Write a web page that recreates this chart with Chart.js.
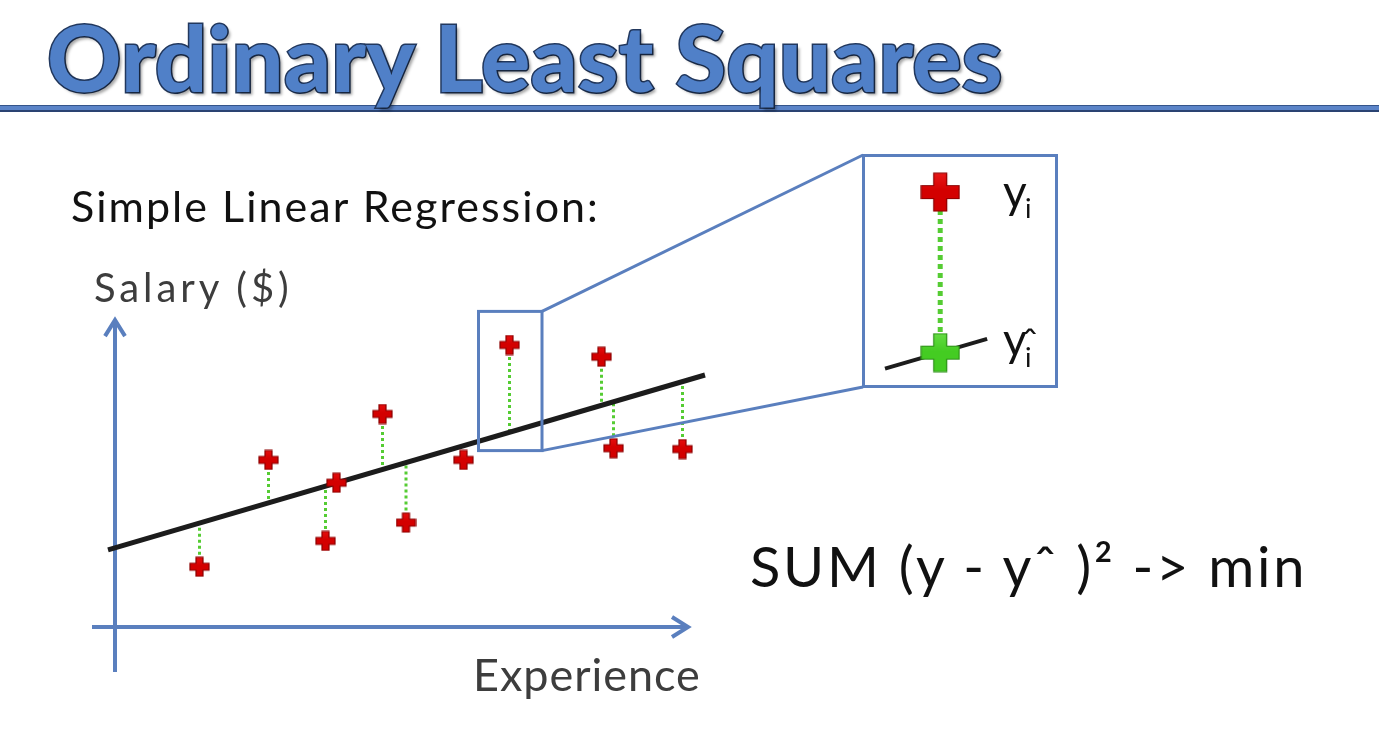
<!DOCTYPE html>
<html><head><meta charset="utf-8">
<script src="https://cdn.jsdelivr.net/npm/chart.js@4.4.1/dist/chart.umd.min.js"></script>
<style>
html,body{margin:0;padding:0;background:#fff;}
#page{position:relative;width:1379px;height:730px;overflow:hidden;background:#fff;}
canvas{position:absolute;}
.t{position:absolute;white-space:pre;margin:0;padding:0;font-family:Lato,"Open Sans",sans-serif;}
#rule{position:absolute;left:0;top:105px;width:1379px;height:4px;background:#5b84c8;border-top:1px solid #34548a;border-bottom:2px solid #2a4372;}
#title{color:#5080c8;-webkit-text-stroke:3px #22385e;paint-order:stroke fill;text-shadow:3px 3px 3px rgba(0,0,0,0.35);}
</style></head>
<body><div id="page">
<canvas id="main" width="1379" height="730" style="left:0;top:0;width:1379px;height:730px"></canvas>
<canvas id="inset" width="196" height="234" style="left:862px;top:154px;width:196px;height:234px"></canvas>
<div id="rule"></div>
<div class="t" id="title">Ordinary Least Squares</div>
<div class="t" id="sub">Simple Linear Regression:</div>
<div class="t" id="ylab">Salary ($)</div>
<div class="t" id="xlab">Experience</div>
<div class="t" id="formula">SUM (y - yˆ )² -> min</div>
<div class="t" id="y1">y</div>
<div class="t" id="i1">i</div>
<div class="t" id="y2">y</div>
<div class="t" id="i2">i</div>
<div class="t" id="hat">ˆ</div>
</div>
<script>
// ---- data ----
const experience = [1.69, 3.07, 4.21, 4.43, 5.35, 5.82, 6.97, 7.89, 9.73, 9.97, 11.35];
const salary     = [20.1, 55.7, 28.7, 48.1, 71.0, 34.8, 55.7, 94.0, 90.1, 59.6, 59.3];
const predicted  = [34.6, 41.3, 46.9, 48.0, 52.5, 54.8, 60.4, 64.9, 73.9, 75.0, 81.8];
const fitLineX = [-0.14, 11.8];
const fitLineY = [25.7, 84.0];
const zoomIndex = 7;
const insetLineX = [7.29, 8.40];
const insetLineY = [62.0, 67.4];

// ---- styles ----
const AXIS_BLUE = '#5a7fbe';
const GREEN_DOT = '#55cc33';

function plusImage(size, arm, fill, light, edge) {
  const c = document.createElement('canvas');
  c.width = c.height = size + 2;
  const g = c.getContext('2d');
  const o = 1, s = size, a = arm, m = (s - a) / 2;
  g.beginPath();
  g.moveTo(o+m, o); g.lineTo(o+m+a, o); g.lineTo(o+m+a, o+m); g.lineTo(o+s, o+m);
  g.lineTo(o+s, o+m+a); g.lineTo(o+m+a, o+m+a); g.lineTo(o+m+a, o+s); g.lineTo(o+m, o+s);
  g.lineTo(o+m, o+m+a); g.lineTo(o, o+m+a); g.lineTo(o, o+m); g.lineTo(o+m, o+m);
  g.closePath();
  const gr = g.createLinearGradient(0, 0, 0, size);
  gr.addColorStop(0, light); gr.addColorStop(0.5, fill); gr.addColorStop(1, fill);
  g.fillStyle = gr; g.fill();
  g.lineWidth = 1.2; g.strokeStyle = edge; g.stroke();
  return c;
}
const redSmall = plusImage(19, 7, '#d30000', '#e81010', '#8c0000');
const redBig = plusImage(38, 13, '#d30000', '#ea1a1a', '#8c0000');
const greenBig = plusImage(38, 13, '#44cc22', '#66dd44', '#2d8f18');

// residual segments
const residualData = [];
experience.forEach((x, i) => {
  residualData.push({x, y: salary[i]}, {x, y: predicted[i]}, {x, y: null});
});

const decorPlugin = {
  id: 'decor',
  beforeDatasetsDraw(chart) {
    const {ctx, scales: {x, y}} = chart;
    const ox = x.getPixelForValue(0), oy = y.getPixelForValue(0);
    const xL = x.getPixelForValue(-0.46), xR = x.getPixelForValue(11.46);
    const yB = y.getPixelForValue(-15), yT = y.getPixelForValue(102.3);
    ctx.save();
    ctx.strokeStyle = AXIS_BLUE; ctx.lineWidth = 4; ctx.lineCap = 'butt'; ctx.lineJoin = 'miter';
    ctx.beginPath(); ctx.moveTo(ox, yB); ctx.lineTo(ox, yT + 2); ctx.stroke();
    ctx.beginPath(); ctx.moveTo(ox - 10, yT + 16); ctx.lineTo(ox, yT); ctx.lineTo(ox + 10, yT + 16); ctx.stroke();
    ctx.beginPath(); ctx.moveTo(xL, oy); ctx.lineTo(xR - 2, oy); ctx.stroke();
    ctx.beginPath(); ctx.moveTo(xR - 16, oy - 10); ctx.lineTo(xR, oy); ctx.lineTo(xR - 16, oy + 10); ctx.stroke();
    ctx.restore();
  },
  afterDatasetsDraw(chart) {
    const {ctx, scales: {x, y}} = chart;
    const bx0 = x.getPixelForValue(experience[zoomIndex] - 0.62);
    const bx1 = x.getPixelForValue(experience[zoomIndex] + 0.65);
    const by0 = y.getPixelForValue(salary[zoomIndex] + 11.2);
    const by1 = y.getPixelForValue(predicted[zoomIndex] - 6.1);
    const inset = document.getElementById('inset');
    const ix = inset.offsetLeft + 1, iyT = inset.offsetTop + 1, iyB = inset.offsetTop + inset.height - 1;
    ctx.save();
    ctx.strokeStyle = AXIS_BLUE; ctx.lineWidth = 3;
    ctx.strokeRect(bx0, by0, bx1 - bx0, by1 - by0);
    ctx.beginPath(); ctx.moveTo(bx1, by0); ctx.lineTo(ix, iyT); ctx.stroke();
    ctx.beginPath(); ctx.moveTo(bx1, by1); ctx.lineTo(ix, iyB); ctx.stroke();
    ctx.restore();
  }
};

new Chart(document.getElementById('main'), {
  type: 'scatter',
  data: {
    datasets: [
      { type: 'line', data: residualData, borderColor: GREEN_DOT, borderWidth: 3, borderDash: [3, 3],
        pointRadius: 0, spanGaps: false, clip: false, order: 2 },
      { type: 'line', data: fitLineX.map((x, i) => ({x, y: fitLineY[i]})), borderColor: '#1c1c1c',
        borderWidth: 5, pointRadius: 0, clip: false, order: 1 },
      { type: 'scatter', data: experience.map((x, i) => ({x, y: salary[i]})), pointStyle: redSmall,
        pointRadius: 10, clip: false, order: 0 }
    ]
  },
  options: {
    responsive: false, animation: false, devicePixelRatio: 1,
    layout: { autoPadding: false, padding: { left: 115, right: 664, top: 327, bottom: 103 } },
    scales: {
      x: { type: 'linear', min: 0, max: 12, display: false },
      y: { type: 'linear', min: 0, max: 100, display: false }
    },
    plugins: { legend: { display: false }, tooltip: { enabled: false } },
    events: []
  },
  plugins: [decorPlugin]
});

const insetBorder = {
  id: 'insetBorder',
  afterDraw(chart) {
    const {ctx, width, height} = chart;
    ctx.save(); ctx.strokeStyle = AXIS_BLUE; ctx.lineWidth = 3;
    ctx.strokeRect(1.5, 1.5, width - 3, height - 3); ctx.restore();
  }
};

new Chart(document.getElementById('inset'), {
  type: 'scatter',
  data: {
    datasets: [
      { type: 'scatter', data: [{x: experience[zoomIndex], y: salary[zoomIndex]}], pointStyle: redBig, pointRadius: 20, order: 0, clip: false },
      { type: 'scatter', data: [{x: experience[zoomIndex], y: predicted[zoomIndex]}], pointStyle: greenBig, pointRadius: 20, order: 0, clip: false },
      { type: 'line', data: insetLineX.map((x, i) => ({x, y: insetLineY[i]})), borderColor: '#1c1c1c', borderWidth: 4, pointRadius: 0, order: 1, clip: false },
      { type: 'line', data: [{x: experience[zoomIndex], y: salary[zoomIndex]}, {x: experience[zoomIndex], y: predicted[zoomIndex]}],
        borderColor: GREEN_DOT, borderWidth: 5, borderDash: [5, 4], pointRadius: 0, order: 2, clip: false }
    ]
  },
  options: {
    responsive: false, animation: false, devicePixelRatio: 1,
    layout: { autoPadding: false, padding: 0 },
    scales: {
      x: { type: 'linear', min: 7.04, max: 9.17, display: false },
      y: { type: 'linear', min: 58.5, max: 100.9, display: false }
    },
    plugins: { legend: { display: false }, tooltip: { enabled: false } },
    events: []
  },
  plugins: [insetBorder]
});

// ---- text placement ----
const mctx = document.createElement('canvas').getContext('2d');
function place(id, o) {
  const el = document.getElementById(id);
  const fam = 'Lato, "Open Sans", sans-serif';
  const w = o.weight || 400;
  el.style.fontFamily = fam; el.style.fontWeight = w; el.style.fontSize = o.size + 'px';
  if (o.color) el.style.color = o.color;
  mctx.font = `${w} ${o.size}px ${fam}`;
  const txt = el.textContent;
  const m = mctx.measureText(txt);
  const A = m.fontBoundingBoxAscent, D = m.fontBoundingBoxDescent;
  el.style.lineHeight = (A + D) + 'px';
  if (o.width && txt.length > 1) {
    const ink = m.actualBoundingBoxLeft + m.actualBoundingBoxRight;
    el.style.letterSpacing = ((o.width - ink) / (txt.length - 1)) + 'px';
  }
  el.style.left = (o.left + m.actualBoundingBoxLeft) + 'px';
  const baseline = (o.inkTop !== undefined) ? o.inkTop + m.actualBoundingBoxAscent : o.baseline;
  el.style.top = (baseline - A) + 'px';
}
function layoutText() {
  place('title', {left: 50, baseline: 92, size: 92, weight: 900, width: 952});
  place('sub', {left: 72, baseline: 222, size: 43, width: 525, color: '#111'});
  place('ylab', {left: 95, baseline: 302, size: 40, width: 193, color: '#3d3d3d'});
  place('xlab', {left: 477, baseline: 691, size: 45, width: 222, color: '#3d3d3d'});
  place('formula', {left: 751, baseline: 587, size: 56, width: 553, color: '#111'});
  place('y1', {left: 1003, baseline: 208, size: 46, color: '#111'});
  place('i1', {left: 1026, baseline: 218, size: 27, color: '#111'});
  place('y2', {left: 1003, baseline: 356, size: 46, color: '#111'});
  place('i2', {left: 1026, baseline: 367, size: 27, color: '#111'});
  place('hat', {left: 1023, inkTop: 328, size: 40, color: '#111'});
}
layoutText();
if (document.fonts && document.fonts.ready) document.fonts.ready.then(layoutText);
</script>
</body></html>
